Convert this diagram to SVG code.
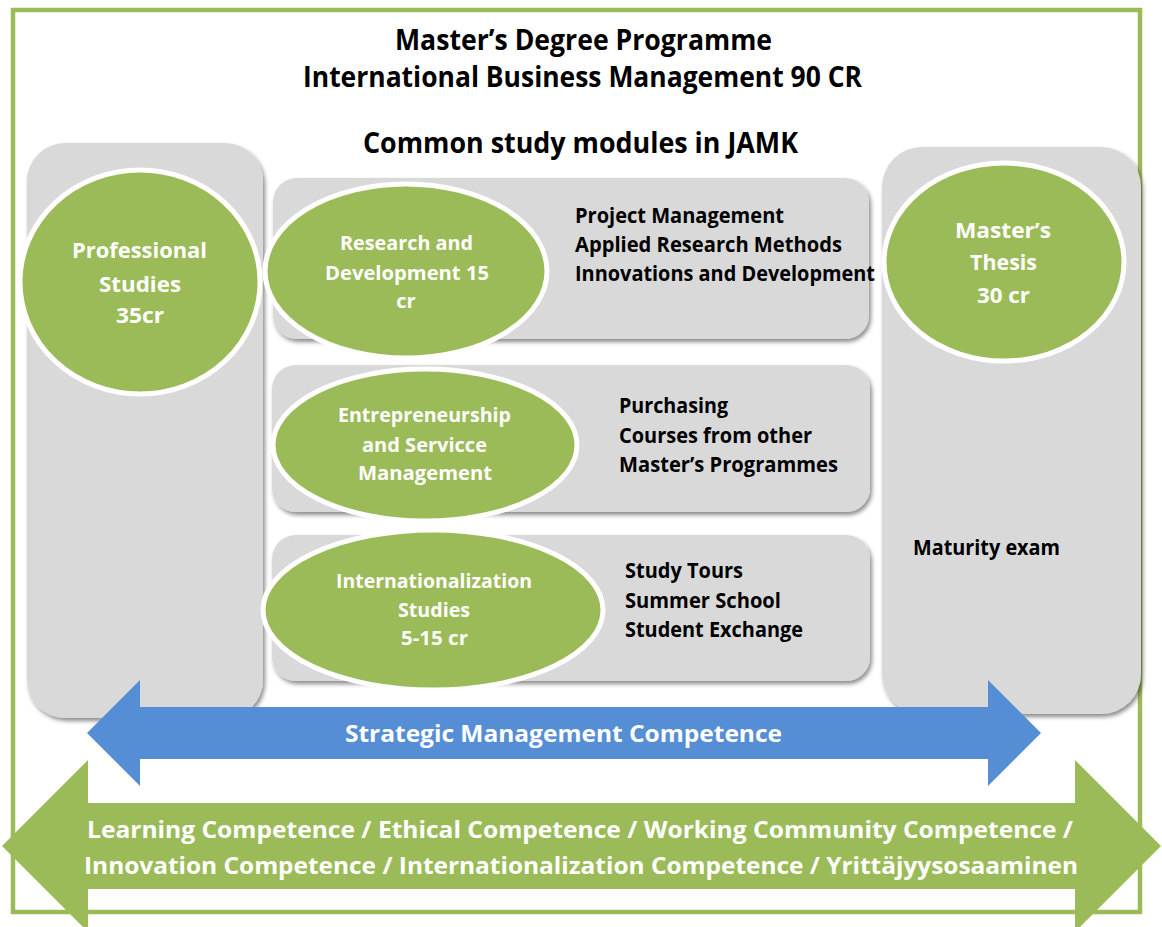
<svg xmlns="http://www.w3.org/2000/svg" width="1162" height="927" viewBox="0 0 1162 927">
  <style>
    .box { fill: #D9D9D9; filter: url(#shadow); }
    .oval { fill: #9BBB59; stroke: #FFFFFF; stroke-width: 5; }
    .head { font-family: "Open Sans", "Liberation Sans", sans-serif; font-weight: 700; font-size: 28px; fill: #000000; }
    .wt { font-family: "Open Sans", "Liberation Sans", sans-serif; font-weight: 700; font-size: 20px; fill: #FFFFFF; }
    .wtl { font-family: "Open Sans", "Liberation Sans", sans-serif; font-weight: 700; font-size: 22px; fill: #FFFFFF; }
    .bk { font-family: "Open Sans", "Liberation Sans", sans-serif; font-weight: 700; font-size: 21px; fill: #000000; }
    .arr { font-family: "Open Sans", "Liberation Sans", sans-serif; font-weight: 700; font-size: 24px; fill: #FFFFFF; }
  </style>
  <defs>
    <filter id="shadow" x="-10%" y="-10%" width="120%" height="120%">
      <feDropShadow dx="2" dy="3" stdDeviation="2" flood-color="#000000" flood-opacity="0.45"/>
    </filter>
  </defs>

  <rect width="1162" height="927" fill="#FFFFFF"/>

  <g id="frame">
    <rect x="13" y="10" width="1127" height="902" fill="#FFFFFF" stroke="#9BBB59" stroke-width="4.5"/>
  </g>

  <g id="title">
    <text class="head" x="395" y="50" textLength="377" lengthAdjust="spacingAndGlyphs">Master’s Degree Programme</text>
    <text class="head" x="303" y="87" textLength="559" lengthAdjust="spacingAndGlyphs">International Business Management 90 CR</text>
    <text class="head" x="363" y="153" textLength="435" lengthAdjust="spacingAndGlyphs">Common study modules in JAMK</text>
  </g>

  <g id="professional-column">
    <rect class="box" x="27" y="143" width="236" height="575" rx="38" ry="38"/>
  </g>

  <g id="thesis-column">
    <rect class="box" x="882" y="147" width="259" height="567" rx="40" ry="40"/>
    <text class="bk" x="913" y="555" textLength="147" lengthAdjust="spacingAndGlyphs">Maturity exam</text>
  </g>

  <g id="row-research">
    <rect class="box" x="273" y="178" width="596" height="161" rx="24" ry="24"/>
    <text class="bk" x="575" y="223" textLength="209" lengthAdjust="spacingAndGlyphs">Project Management</text>
    <text class="bk" x="575" y="252" textLength="267" lengthAdjust="spacingAndGlyphs">Applied Research Methods</text>
    <text class="bk" x="575" y="281" textLength="300" lengthAdjust="spacingAndGlyphs">Innovations and Development</text>
  </g>

  <g id="row-entrepreneurship">
    <rect class="box" x="272" y="365" width="598" height="147" rx="24" ry="24"/>
    <text class="bk" x="619" y="413" textLength="109" lengthAdjust="spacingAndGlyphs">Purchasing</text>
    <text class="bk" x="619" y="443" textLength="193" lengthAdjust="spacingAndGlyphs">Courses from other</text>
    <text class="bk" x="619" y="472" textLength="219" lengthAdjust="spacingAndGlyphs">Master’s Programmes</text>
  </g>

  <g id="row-internationalization">
    <rect class="box" x="272" y="535" width="598" height="146" rx="24" ry="24"/>
    <text class="bk" x="625" y="578" textLength="118" lengthAdjust="spacingAndGlyphs">Study Tours</text>
    <text class="bk" x="625" y="608" textLength="156" lengthAdjust="spacingAndGlyphs">Summer School</text>
    <text class="bk" x="625" y="637" textLength="178" lengthAdjust="spacingAndGlyphs">Student Exchange</text>
  </g>

  <g id="professional-studies">
    <ellipse class="oval" cx="140" cy="282" rx="120" ry="112"/>
    <text class="wtl" x="72" y="258" textLength="135" lengthAdjust="spacingAndGlyphs">Professional</text>
    <text class="wtl" x="99" y="292" textLength="82" lengthAdjust="spacingAndGlyphs">Studies</text>
    <text class="wtl" x="116" y="323" textLength="48" lengthAdjust="spacingAndGlyphs">35cr</text>
  </g>

  <g id="research-development">
    <ellipse class="oval" cx="406" cy="271" rx="141" ry="87"/>
    <text class="wt" x="340" y="250" textLength="133" lengthAdjust="spacingAndGlyphs">Research and</text>
    <text class="wt" x="325" y="280" textLength="164" lengthAdjust="spacingAndGlyphs">Development 15</text>
    <text class="wt" x="406" y="308" text-anchor="middle">cr</text>
  </g>

  <g id="masters-thesis">
    <ellipse class="oval" cx="1004" cy="262" rx="120" ry="99"/>
    <text class="wtl" x="955" y="238" textLength="96" lengthAdjust="spacingAndGlyphs">Master’s</text>
    <text class="wtl" x="970" y="270" textLength="67" lengthAdjust="spacingAndGlyphs">Thesis</text>
    <text class="wtl" x="977" y="303" textLength="53" lengthAdjust="spacingAndGlyphs">30 cr</text>
  </g>

  <g id="entrepreneurship-service">
    <ellipse class="oval" cx="425" cy="445" rx="152" ry="76"/>
    <text class="wt" x="338" y="422" textLength="173" lengthAdjust="spacingAndGlyphs">Entrepreneurship</text>
    <text class="wt" x="362" y="452" textLength="125" lengthAdjust="spacingAndGlyphs">and Servicce</text>
    <text class="wt" x="358" y="480" textLength="134" lengthAdjust="spacingAndGlyphs">Management</text>
  </g>

  <g id="internationalization-studies">
    <ellipse class="oval" cx="433" cy="610" rx="170" ry="80"/>
    <text class="wt" x="336" y="588" textLength="196" lengthAdjust="spacingAndGlyphs">Internationalization</text>
    <text class="wt" x="398" y="617" textLength="72" lengthAdjust="spacingAndGlyphs">Studies</text>
    <text class="wt" x="401" y="645" textLength="67" lengthAdjust="spacingAndGlyphs">5-15 cr</text>
  </g>

  <g id="strategic-management-arrow">
    <polygon points="87,733 140,680 140,707 988,707 988,680 1041,733 988,786 988,759 140,759 140,786" fill="#558ED5"/>
    <text class="arr" x="345" y="742" textLength="437" lengthAdjust="spacingAndGlyphs">Strategic Management Competence</text>
  </g>

  <g id="competences-arrow">
    <polygon points="2,846 88,760 88,803 1075,803 1075,760 1161,846 1075,932 1075,889 88,889 88,932" fill="#9BBB59"/>
    <text class="arr" x="87" y="838" textLength="986" lengthAdjust="spacingAndGlyphs">Learning Competence / Ethical Competence / Working Community Competence /</text>
    <text class="arr" x="84" y="874" textLength="994" lengthAdjust="spacingAndGlyphs">Innovation Competence / Internationalization Competence / Yrittäjyysosaaminen</text>
  </g>
</svg>
